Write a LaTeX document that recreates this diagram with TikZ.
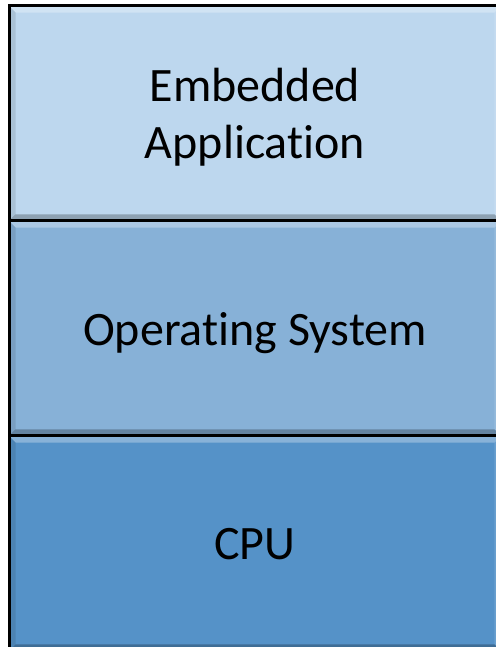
\documentclass[tikz,border=0pt]{standalone}
\usepackage{fontspec}
\setmainfont{Carlito}[Ligatures=NoCommon]
\usetikzlibrary{positioning}

\definecolor{appblue}{RGB}{189,215,238}
\definecolor{osblue}{RGB}{135,177,215}
\definecolor{cpublue}{RGB}{85,146,200}

% one bevelled layer of the stack
\tikzset{
  layer/.style={draw=black, line width=2.25pt, outer sep=0pt, inner sep=0pt,
    minimum width=369pt, minimum height=161.25pt, align=center,
    font=\fontsize{36}{43}\selectfont, text depth=0pt,
    path picture={
      \fill[white,opacity=0.3] (path picture bounding box.north west) -- (path picture bounding box.north east)
        -- ([shift={(-5pt,-5pt)}]path picture bounding box.north east) -- ([shift={(5pt,-5pt)}]path picture bounding box.north west) -- cycle;
      \fill[black,opacity=0.1] (path picture bounding box.north west) -- ([shift={(5pt,-5pt)}]path picture bounding box.north west)
        -- ([shift={(5pt,5pt)}]path picture bounding box.south west) -- (path picture bounding box.south west) -- cycle;
      \fill[white,opacity=0.12] (path picture bounding box.north east) -- ([shift={(-5pt,-5pt)}]path picture bounding box.north east)
        -- ([shift={(-5pt,5pt)}]path picture bounding box.south east) -- (path picture bounding box.south east) -- cycle;
      \fill[black,opacity=0.25] (path picture bounding box.south west) -- (path picture bounding box.south east)
        -- ([shift={(-5pt,5pt)}]path picture bounding box.south east) -- ([shift={(5pt,5pt)}]path picture bounding box.south west) -- cycle;
    }},
}

\begin{document}
\begin{tikzpicture}
\useasboundingbox (0,0) rectangle (372pt,485.25pt);
\node[layer, fill=appblue, anchor=north west] (app) at (6.75pt,480.75pt) {Embedded\\Application};
\node[layer, fill=osblue, below=0pt of app] (os) {Operating System};
\node[layer, fill=cpublue, below=0pt of os] (cpu) {CPU};
\end{tikzpicture}
\end{document}
